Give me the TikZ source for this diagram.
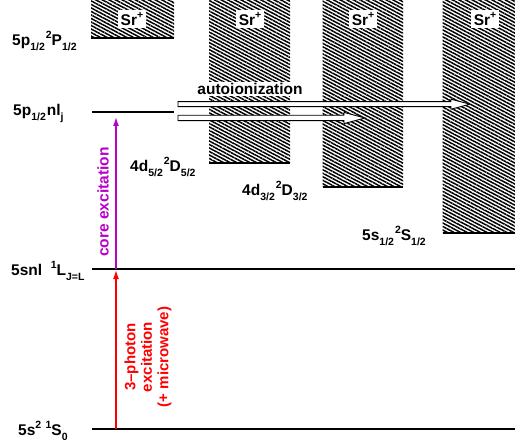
\documentclass[tikz,border=0pt]{standalone}
\usepackage{fontspec}
\setmainfont{Liberation Sans}
\usetikzlibrary{patterns.meta,arrows.meta,calc}
\newcommand{\lsb}[1]{\raisebox{-0.32em}{\fontsize{10.5}{11}\selectfont #1}}
\newcommand{\lsp}[1]{\raisebox{0.45em}{\fontsize{10.5}{11}\selectfont #1}}
\definecolor{coremag}{RGB}{185,0,200}
\begin{document}
\begin{tikzpicture}[x=1pt,y=-1pt,
  every node/.style={font=\fontsize{15.5}{17}\selectfont\bfseries, inner sep=0pt},
  hatchbox/.style={pattern={Lines[angle=-28,distance=3.1pt,line width=1.5pt]}},
  edge/.style={line width=2pt},
  level/.style={line width=2pt},
  lbl/.style={anchor=west},
  srlbl/.style={fill=white, inner xsep=3pt, inner ysep=2pt},
  openarrow/.style={fill=white, draw=black, line width=0.9pt, line join=miter},
  corearrow/.style={draw=coremag, line width=1.4pt, -{Latex[length=9pt,width=6pt]}},
  photarrow/.style={draw=red, line width=1.4pt, -{Latex[length=9pt,width=6pt]}}]
\useasboundingbox (0,0) rectangle (515,444);
\begin{scope}
\clip (0,0) rectangle (515,444);
% continuum boxes
\fill[hatchbox] (91,-5) rectangle (174,37.7);
\draw[edge] (91,37.7) -- (174,37.7);
\fill[hatchbox] (209,-5) rectangle (290,163);
\draw[edge] (209,163) -- (290,163);
\fill[hatchbox] (322.5,-5) rectangle (403,187);
\draw[edge] (322.5,187) -- (403,187);
\fill[hatchbox] (442.5,-5) rectangle (526,232.7);
\draw[edge] (442.5,232.7) -- (526,232.7);
\node[srlbl] (sr1) at (132,19) {Sr\lsp{+}};
\node[srlbl] (sr2) at (250,19) {Sr\lsp{+}};
\node[srlbl] (sr3) at (363,19) {Sr\lsp{+}};
\node[srlbl] (sr4) at (485,19) {Sr\lsp{+}};
\end{scope}
% levels
\coordinate (pnA) at (92,111.7); \coordinate (pnB) at (174,111.7);
\coordinate (snA) at (92,269.3); \coordinate (snB) at (515,269.3);
\coordinate (gsA) at (92,429);   \coordinate (gsB) at (515,429);
\draw[level] (pnA) -- (pnB);
\draw[level] (snA) -- (snB);
\draw[level] (gsA) -- (gsB);
% labels
\node[lbl] (l1) at (12,41) {5p\lsb{1/2}\hspace{1pt}\lsp{2}P\lsb{1/2}};
\node[lbl] (l2) at (13,113) {5p\lsb{1/2}\hspace{1pt}nl\lsb{j}};
\node[lbl] (l3) at (11,271) {5snl\ \ \lsp{1}L\lsb{J=L}};
\node[lbl] (l4) at (18,431) {5s\lsp{2}\ \lsp{1}S\lsb{0}};
\node[lbl] (l5) at (130,167) {4d\lsb{5/2}\hspace{1pt}\lsp{2}D\lsb{5/2}};
\node[lbl] (l6) at (242,191) {4d\lsb{3/2}\hspace{1pt}\lsp{2}D\lsb{3/2}};
\node[lbl] (l7) at (362,236) {5s\lsb{1/2}\hspace{1pt}\lsp{2}S\lsb{1/2}};
% excitation arrows
\coordinate (ce0) at (116,269.3); \coordinate (ce1) at (116,117);
\draw[corearrow] (ce0) -- (ce1);
\node[rotate=90, text=coremag] (cetxt) at (103,202) {core excitation};
\coordinate (ph0) at (116,429); \coordinate (ph1) at (116,270);
\draw[photarrow] (ph0) -- (ph1);
\node[rotate=90, text=red, align=center, font=\fontsize{15}{16.5}\selectfont\bfseries] (phtxt) at (148,357) {3–photon\\excitation\\(+ microwave)};
% autoionization arrows
\node[fill=white, inner xsep=1pt, inner ysep=1.5pt] (ai) at (250,89) {autoionization};
\coordinate (ua0) at (178,104.2); \coordinate (ua1) at (470,104.2);
\draw[openarrow] ($(ua0)+(0,-2.5)$) -- ($(ua1)+(-19,-2.5)$) -- ($(ua1)+(-19,-5)$) -- (ua1)
  -- ($(ua1)+(-19,5)$) -- ($(ua1)+(-19,2.5)$) -- ($(ua0)+(0,2.5)$) -- cycle;
\coordinate (la0) at (178,118); \coordinate (la1) at (365,118);
\draw[openarrow] ($(la0)+(0,-2.7)$) -- ($(la1)+(-21,-2.7)$) -- ($(la1)+(-21,-5.6)$) -- (la1)
  -- ($(la1)+(-21,5.6)$) -- ($(la1)+(-21,2.7)$) -- ($(la0)+(0,2.7)$) -- cycle;
\end{tikzpicture}
\end{document}
